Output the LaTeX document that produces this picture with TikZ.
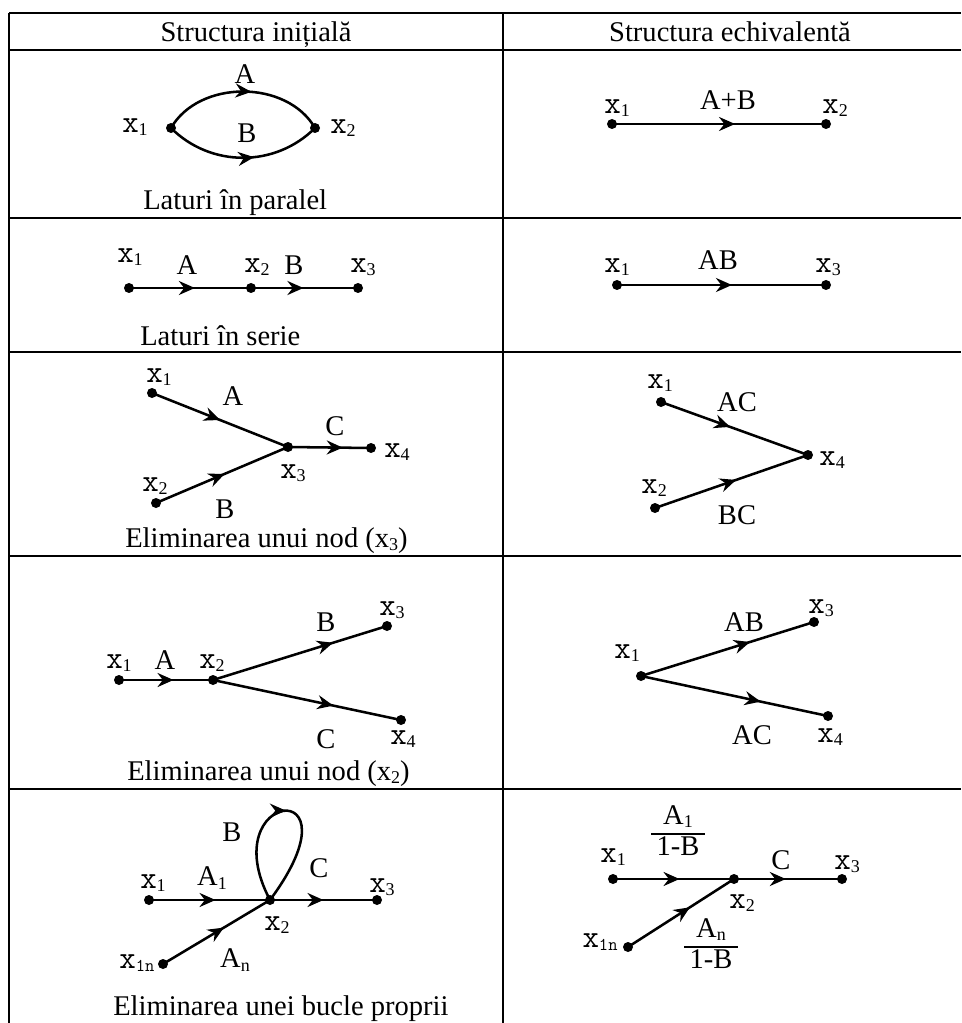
\documentclass[tikz,border=0pt]{standalone}
\usepackage{fontspec}
\setmainfont{Liberation Serif}
\usetikzlibrary{arrows.meta,decorations.markings}
\newcommand{\sub}[1]{\raisebox{-2.5pt}{\fontsize{13.5}{13.5}\selectfont #1}}
\newcommand{\X}[1]{{\ttfamily\fontsize{24}{24}\selectfont x}\sub{#1}}
\newcommand{\Xt}[1]{x\sub{#1}}
\newcommand{\Xn}{{\ttfamily\fontsize{24}{24}\selectfont x}\sub{\ttfamily 1n}}
\newcommand{\frc}[2]{{\renewcommand{\arraystretch}{0.9}\setlength{\arrayrulewidth}{1.3pt}\begin{tabular}{@{\hspace{4pt}}c@{\hspace{4pt}}}#1\\\hline #2\end{tabular}}}
\tikzset{
  dot/.style={circle, fill=black, inner sep=0pt, minimum size=7.5pt},
  lbl/.style={inner sep=0pt},
  capt/.style={inner sep=0pt, anchor=base west},
  hdr/.style={inner sep=0pt, anchor=base},
  edge/.style={line width=1.9pt},
  frame/.style={line width=1.3pt},
  mid/.style={postaction={decorate, decoration={markings,
      mark=at position #1 with {\arrow{Stealth[length=12pt,width=10.5pt,inset=4pt]}}}}},
}
\begin{document}
\begin{tikzpicture}[x=0.75pt, y=-0.75pt, every node/.style={font=\fontsize{21.4}{25}\selectfont}]
\useasboundingbox (0,0) rectangle (961,1023);
% table frame
\draw[frame] (9,13) -- (961,13);
\draw[frame] (9,50) -- (961,50);
\draw[frame] (9,218) -- (961,218);
\draw[frame] (9,352) -- (961,352);
\draw[frame] (9,556) -- (961,556);
\draw[frame] (9,789) -- (961,789);
\draw[frame] (9,13) -- (9,1023);
\draw[frame] (503,13) -- (503,1023);
\node[hdr] (h1) at (256,42) {Structura inițială};
\node[hdr] (h2) at (730,42) {Structura echivalentă};

% row 1 left
\node[dot] (p1a) at (171,128) {};
\node[dot] (p1b) at (315,128) {};
\draw[edge, mid=0.55] (p1a.center) to[bend left=60] (p1b.center);
\draw[edge, mid=0.57] (p1a.center) to[bend right=45] (p1b.center);
\node[lbl] (l1x1) at (135,127) {\X{1}};
\node[lbl] (l1x2) at (343,128) {\X{2}};
\node[lbl] (l1A) at (245,74) {A};
\node[lbl] (l1B) at (247,133) {B};
\node[capt] (c1) at (143,210) {Laturi în paralel};

% row 1 right
\node[dot] (q1a) at (612,124) {};
\node[dot] (q1b) at (826,124) {};
\draw[edge, mid=0.575] (q1a.center) -- (q1b.center);
\node[lbl] (m1x1) at (617,108) {\X{1}};
\node[lbl] (m1AB) at (728,100) {A+B};
\node[lbl] (m1x2) at (835,108) {\X{2}};

% row 2 left
\node[dot] (p2a) at (129,288) {};
\node[dot] (p2b) at (251,288) {};
\node[dot] (p2c) at (358,288) {};
\draw[edge, mid=0.54] (p2a.center) -- (p2b.center);
\draw[edge, mid=0.49] (p2b.center) -- (p2c.center);
\node[lbl] (l2x1) at (130,257) {\X{1}};
\node[lbl] (l2A) at (187,265) {A};
\node[lbl] (l2x2) at (257,267) {\X{2}};
\node[lbl] (l2B) at (294,265) {B};
\node[lbl] (l2x3) at (363,267) {\X{3}};
\node[capt] (c2) at (140,345) {Laturi în serie};

% row 2 right
\node[dot] (q2a) at (617,285) {};
\node[dot] (q2b) at (826,285) {};
\draw[edge, mid=0.55] (q2a.center) -- (q2b.center);
\node[lbl] (m2x1) at (617,267) {\X{1}};
\node[lbl] (m2AB) at (718,260) {AB};
\node[lbl] (m2x3) at (828,267) {\X{3}};

% row 3 left
\node[dot] (p3a) at (152,393) {};
\node[dot] (p3b) at (156,503) {};
\node[dot] (p3c) at (288,447) {};
\node[dot] (p3d) at (371,448) {};
\draw[edge, mid=0.5] (p3a.center) -- (p3c.center);
\draw[edge, mid=0.52] (p3b.center) -- (p3c.center);
\draw[edge, mid=0.66] (p3c.center) -- (p3d.center);
\node[lbl] (l3x1) at (159,377) {\X{1}};
\node[lbl] (l3A) at (233,396) {A};
\node[lbl] (l3C) at (335,426) {C};
\node[lbl] (l3x4) at (397,452) {\X{4}};
\node[lbl] (l3x3) at (293,473) {\X{3}};
\node[lbl] (l3x2) at (155,486) {\X{2}};
\node[lbl] (l3B) at (225,509) {B};
\node[capt] (c3) at (125,547) {Eliminarea unui nod (\Xt{3})};

% row 3 right
\node[dot] (q3a) at (661,402) {};
\node[dot] (q3b) at (655,508) {};
\node[dot] (q3c) at (808,455) {};
\draw[edge, mid=0.47] (q3a.center) -- (q3c.center);
\draw[edge, mid=0.53] (q3b.center) -- (q3c.center);
\node[lbl] (m3x1) at (660,383) {\X{1}};
\node[lbl] (m3AC) at (737,402) {AC};
\node[lbl] (m3x4) at (832,460) {\X{4}};
\node[lbl] (m3x2) at (654,488) {\X{2}};
\node[lbl] (m3BC) at (737,515) {BC};

% row 4 left
\node[dot] (p4a) at (119,680) {};
\node[dot] (p4b) at (213,680) {};
\node[dot] (p4c) at (387,626) {};
\node[dot] (p4d) at (401,720) {};
\draw[edge, mid=0.58] (p4a.center) -- (p4b.center);
\draw[edge, mid=0.69] (p4b.center) -- (p4c.center);
\draw[edge, mid=0.64] (p4b.center) -- (p4d.center);
\node[lbl] (l4x1) at (119,663) {\X{1}};
\node[lbl] (l4A) at (165,660) {A};
\node[lbl] (l4x2) at (212,663) {\X{2}};
\node[lbl] (l4B) at (326,622) {B};
\node[lbl] (l4x3) at (392,610) {\X{3}};
\node[lbl] (l4C) at (326,739) {C};
\node[lbl] (l4x4) at (403,739) {\X{4}};
\node[capt] (c4) at (127,780) {Eliminarea unui nod (\Xt{2})};

% row 4 right
\node[dot] (q4a) at (641,676) {};
\node[dot] (q4b) at (814,622) {};
\node[dot] (q4c) at (828,716) {};
\draw[edge, mid=0.63] (q4a.center) -- (q4b.center);
\draw[edge, mid=0.64] (q4a.center) -- (q4c.center);
\node[lbl] (m4x1) at (627,653) {\X{1}};
\node[lbl] (m4AB) at (744,622) {AB};
\node[lbl] (m4x3) at (821,608) {\X{3}};
\node[lbl] (m4AC) at (752,735) {AC};
\node[lbl] (m4x4) at (830,737) {\X{4}};

% row 5 left
\node[dot] (p5a) at (149,900) {};
\node[dot] (p5b) at (270,900) {};
\node[dot] (p5c) at (377,900) {};
\node[dot] (p5n) at (163,964) {};
\draw[edge, mid=0.55] (p5a.center) -- (p5b.center);
\draw[edge, mid=0.5] (p5b.center) -- (p5c.center);
\draw[edge, mid=0.57] (p5n.center) -- (p5b.center);
\draw[edge, mid=0.5] (p5b.center) .. controls (212,790) and (365,772) .. (p5b.center);
\node[lbl] (l5B) at (232,832) {B};
\node[lbl] (l5C) at (319,868) {C};
\node[lbl] (l5x1) at (153,883) {\X{1}};
\node[lbl] (l5A1) at (212,878) {A\sub{1}};
\node[lbl] (l5x3) at (382,887) {\X{3}};
\node[lbl] (l5x2) at (277,925) {\X{2}};
\node[lbl] (l5An) at (235,960) {A\sub{n}};
\node[lbl] (l5xn) at (137,963) {\Xn};
\node[capt] (c5) at (113,1015) {Eliminarea unei bucle proprii};

% row 5 right
\node[dot] (q5a) at (613,879) {};
\node[dot] (q5b) at (734,879) {};
\node[dot] (q5c) at (842,879) {};
\node[dot] (q5n) at (628,947) {};
\draw[edge, mid=0.55] (q5a.center) -- (q5b.center);
\draw[edge, mid=0.48] (q5b.center) -- (q5c.center);
\draw[edge, mid=0.585] (q5n.center) -- (q5b.center);
\node[lbl] (m5f1) at (678,834) {\frc{A\sub{1}}{1-B}};
\node[lbl] (m5x1) at (613,857) {\X{1}};
\node[lbl] (m5C) at (781,860) {C};
\node[lbl] (m5x3) at (847,864) {\X{3}};
\node[lbl] (m5x2) at (742,903) {\X{2}};
\node[lbl] (m5xn) at (600,942) {\Xn};
\node[lbl] (m5f2) at (711,947) {\frc{A\sub{n}}{1-B}};
\end{tikzpicture}
\end{document}
